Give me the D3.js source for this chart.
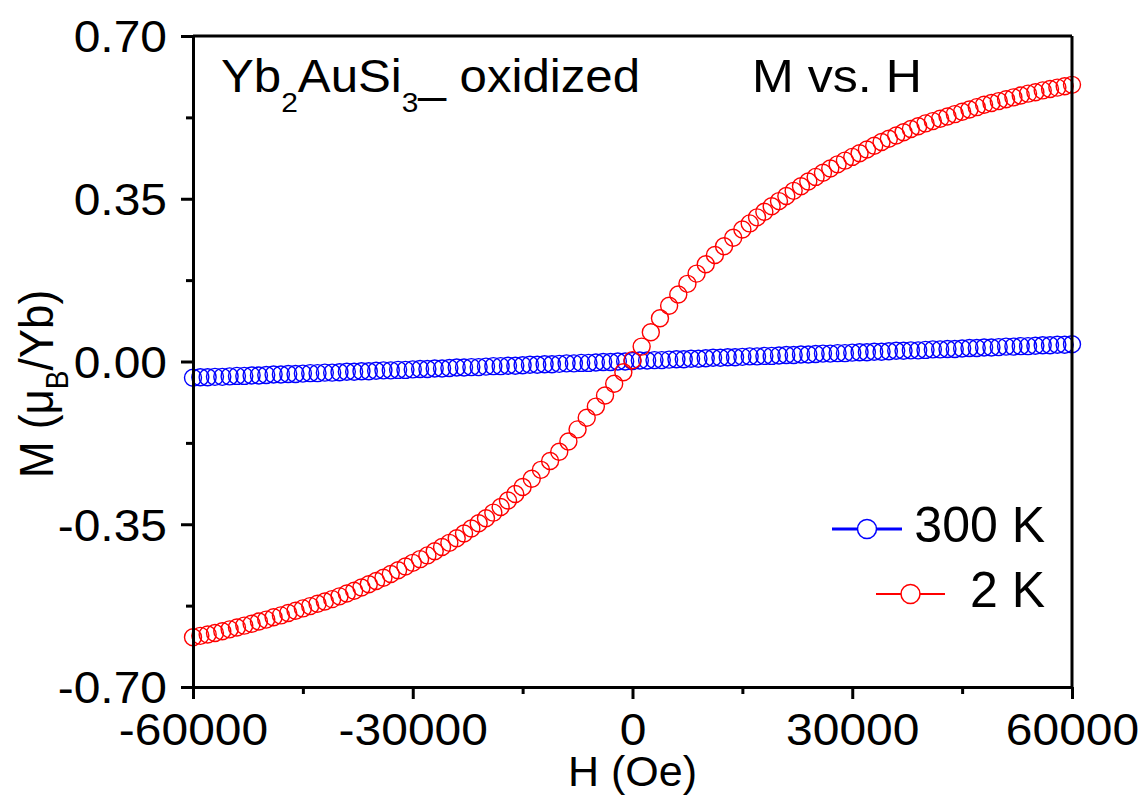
<!DOCTYPE html>
<html lang="en">

<head>
    <meta charset="utf-8">
    <style>
        body { margin: 0; background: #fff; }
        text { font-family: "Liberation Sans", Arial, sans-serif; fill: #000; }
    </style>
</head>

<body>
    <script src="https://d3js.org/d3.v7.min.js"></script>
    <script>

        // 300 K sweep, H in Oe, M in muB/Yb
        const hBlue = [-60000, -59000, -58000, -57000, -56000, -55000, -54000, -53000, -52000, -51000,
            -50000, -49000, -48000, -47000, -46000, -45000, -44000, -43000, -42000, -41000,
            -40000, -39000, -38000, -37000, -36000, -35000, -34000, -33000, -32000, -31000,
            -30000, -29000, -28000, -27000, -26000, -25000, -24000, -23000, -22000, -21000,
            -20000, -19000, -18000, -17000, -16000, -15000, -14000, -13000, -12000, -11000,
            -10000, -9000, -8000, -7000, -6000, -5000, -4000, -3000, -2000, -1000,
            0, 1000, 2000, 3000, 4000, 5000, 6000, 7000, 8000, 9000,
            10000, 11000, 12000, 13000, 14000, 15000, 16000, 17000, 18000, 19000,
            20000, 21000, 22000, 23000, 24000, 25000, 26000, 27000, 28000, 29000,
            30000, 31000, 32000, 33000, 34000, 35000, 36000, 37000, 38000, 39000,
            40000, 41000, 42000, 43000, 44000, 45000, 46000, 47000, 48000, 49000,
            50000, 51000, 52000, 53000, 54000, 55000, 56000, 57000, 58000, 59000, 60000];
        const mBlue = [-0.035, -0.034, -0.034, -0.033, -0.033, -0.032, -0.031, -0.031, -0.030, -0.030,
            -0.029, -0.028, -0.028, -0.027, -0.027, -0.026, -0.025, -0.025, -0.024, -0.024,
            -0.023, -0.022, -0.022, -0.021, -0.021, -0.020, -0.019, -0.019, -0.018, -0.018,
            -0.017, -0.016, -0.016, -0.015, -0.015, -0.014, -0.013, -0.013, -0.012, -0.012,
            -0.011, -0.010, -0.010, -0.009, -0.009, -0.008, -0.007, -0.007, -0.006, -0.006,
            -0.005, -0.004, -0.004, -0.003, -0.003, -0.002, -0.001, -0.001, 0.000, 0.000,
            0.001, 0.002, 0.002, 0.003, 0.003, 0.004, 0.005, 0.005, 0.006, 0.006,
            0.007, 0.008, 0.008, 0.009, 0.009, 0.010, 0.011, 0.011, 0.012, 0.012,
            0.013, 0.014, 0.014, 0.015, 0.015, 0.016, 0.017, 0.017, 0.018, 0.018,
            0.019, 0.020, 0.020, 0.021, 0.021, 0.022, 0.023, 0.023, 0.024, 0.024,
            0.025, 0.026, 0.026, 0.027, 0.027, 0.028, 0.029, 0.029, 0.030, 0.030,
            0.031, 0.032, 0.032, 0.033, 0.033, 0.034, 0.035, 0.035, 0.036, 0.036, 0.037];

        // 2 K sweep (finer steps around zero field)
        const hRed = [-60000, -59000, -58000, -57000, -56000, -55000, -54000, -53000, -52000, -51000,
            -50000, -49000, -48000, -47000, -46000, -45000, -44000, -43000, -42000, -41000,
            -40000, -39000, -38000, -37000, -36000, -35000, -34000, -33000, -32000, -31000,
            -30000, -29000, -28000, -27000, -26000, -25000, -24000, -23000, -22000, -21000,
            -20000, -19000, -18000, -17000, -16000, -15000,
            -13750, -12500, -11250, -10000, -8750, -7500, -6250, -5000, -3750, -2500, -1250,
            0, 1250, 2500, 3750, 5000, 6250, 7500, 8750, 10000, 11250, 12500, 13750,
            15000, 16000, 17000, 18000, 19000, 20000, 21000, 22000, 23000, 24000,
            25000, 26000, 27000, 28000, 29000, 30000, 31000, 32000, 33000, 34000,
            35000, 36000, 37000, 38000, 39000, 40000, 41000, 42000, 43000, 44000,
            45000, 46000, 47000, 48000, 49000, 50000, 51000, 52000, 53000, 54000,
            55000, 56000, 57000, 58000, 59000, 60000];
        const mRed = [-0.593, -0.590, -0.587, -0.584, -0.580, -0.576, -0.572, -0.568, -0.564, -0.559,
            -0.555, -0.550, -0.546, -0.541, -0.536, -0.531, -0.526, -0.521, -0.516, -0.511,
            -0.505, -0.499, -0.493, -0.486, -0.479, -0.472, -0.465, -0.457, -0.449, -0.441,
            -0.433, -0.425, -0.417, -0.408, -0.399, -0.390, -0.380, -0.370, -0.359, -0.348,
            -0.337, -0.325, -0.313, -0.299, -0.285, -0.270,
            -0.252, -0.233, -0.214, -0.194, -0.172, -0.146, -0.121, -0.097, -0.073, -0.048, -0.023,
            0.003, 0.032, 0.063, 0.093, 0.120, 0.144, 0.167, 0.189, 0.209, 0.229, 0.248, 0.266,
            0.284, 0.297, 0.310, 0.322, 0.334, 0.345, 0.356, 0.367, 0.377, 0.387,
            0.397, 0.406, 0.415, 0.424, 0.432, 0.440, 0.448, 0.456, 0.464, 0.472,
            0.479, 0.486, 0.493, 0.500, 0.506, 0.512, 0.517, 0.522, 0.527, 0.532,
            0.537, 0.542, 0.547, 0.552, 0.556, 0.560, 0.564, 0.568, 0.572, 0.576,
            0.579, 0.583, 0.586, 0.589, 0.592, 0.595];

        const seriesNames = ["300 K", "2 K"];
        const xTicks = [-60000, -30000, 0, 30000, 60000];
        const xMinor = [-45000, -15000, 15000, 45000];
        const yTicks = [-0.70, -0.35, 0.00, 0.35, 0.70];
        const yMinor = [-0.525, -0.175, 0.175, 0.525];

        const width = 1148, height = 797;
        const plotLeft = 193, plotRight = 1072, plotTop = 36, plotBottom = 687;
        const stretch = 1.09; // the source type is a bit wider than Arial

        var svg = d3.select("body")
            .append("svg")
            .attr("width", width)
            .attr("height", height);

        var x = d3.scaleLinear().domain([-60000, 60000]).range([plotLeft, plotRight]);
        var y = d3.scaleLinear().domain([-0.70, 0.70]).range([plotBottom, plotTop]);

        // data first, axes drawn on top
        var series = [
            { name: seriesNames[0], color: "#0000ff", h: hBlue, m: mBlue },
            { name: seriesNames[1], color: "#ff0000", h: hRed, m: mRed }
        ];

        series.forEach(function (s) {
            svg.append("g")
                .selectAll("circle")
                .data(d3.zip(s.h, s.m))
                .enter()
                .append("circle")
                .attr("cx", function (d) { return x(d[0]); })
                .attr("cy", function (d) { return y(d[1]); })
                .attr("r", 8.5)
                .attr("fill", "none")
                .attr("stroke", s.color)
                .attr("stroke-width", 1.4);
        });

        // frame on top and right
        svg.append("line")
            .attr("x1", plotLeft).attr("x2", plotRight).attr("y1", plotTop).attr("y2", plotTop)
            .attr("stroke", "#000").attr("stroke-width", 3);
        svg.append("line")
            .attr("x1", plotRight).attr("x2", plotRight).attr("y1", plotTop).attr("y2", plotBottom)
            .attr("stroke", "#000").attr("stroke-width", 3);

        var xAxis = d3.axisBottom(x)
            .tickValues(xTicks)
            .tickSize(12)
            .tickSizeOuter(0)
            .tickFormat(d3.format("d"));
        var xAxisMinor = d3.axisBottom(x).tickValues(xMinor).tickSize(7).tickSizeOuter(0).tickFormat("");

        var yAxis = d3.axisLeft(y)
            .tickValues(yTicks)
            .tickSize(12)
            .tickSizeOuter(0)
            .tickFormat(d3.format(".2f"));
        var yAxisMinor = d3.axisLeft(y).tickValues(yMinor).tickSize(7).tickSizeOuter(0).tickFormat("");

        var gx = svg.append("g").attr("transform", "translate(0," + plotBottom + ")").call(xAxis);
        svg.append("g").attr("transform", "translate(0," + plotBottom + ")").call(xAxisMinor);
        var gy = svg.append("g").attr("transform", "translate(" + plotLeft + ",0)").call(yAxis);
        svg.append("g").attr("transform", "translate(" + plotLeft + ",0)").call(yAxisMinor);

        svg.selectAll(".domain").attr("stroke-width", 3).attr("stroke", "#000");
        svg.selectAll(".tick line").attr("stroke-width", 3).attr("stroke", "#000");

        gx.selectAll("text")
            .attr("y", null)
            .attr("dy", null)
            .attr("transform", "translate(0,58) scale(" + stretch + ",1)")
            .attr("font-size", 44)
            .attr("font-family", null)
            .attr("fill", "#000")
            .text(function (d) { return d3.format("d")(d).replace("\u2212", "-"); });

        gy.selectAll("text")
            .attr("x", null)
            .attr("dy", "0.36em")
            .attr("transform", "translate(-26,0) scale(" + stretch + ",1)")
            .attr("font-size", 44)
            .attr("font-family", null)
            .attr("fill", "#000")
            .text(function (d) { return d3.format(".2f")(d).replace("\u2212", "-"); });

        // axis titles
        svg.append("text")
            .attr("x", (plotLeft + plotRight) / 2)
            .attr("y", 786)
            .attr("text-anchor", "middle")
            .attr("font-size", 43)
            .text("H (Oe)");

        var yt = svg.append("text")
            .attr("transform", "translate(53,384) scale(" + stretch + ",1) rotate(-90)")
            .attr("text-anchor", "middle")
            .attr("font-size", 44);
        yt.append("tspan").text("M (\u03bc");
        yt.append("tspan").attr("dy", 14).attr("font-size", 28).text("B");
        yt.append("tspan").attr("dy", -14).text("/Yb)");

        // annotations
        var t1 = svg.append("text")
            .attr("transform", "translate(221,92) scale(1.07,1)")
            .attr("font-size", 46);
        t1.append("tspan").text("Yb");
        t1.append("tspan").attr("dy", 20).attr("font-size", 28).text("2");
        t1.append("tspan").attr("dy", -20).text("AuSi");
        t1.append("tspan").attr("dy", 20).attr("font-size", 28).text("3");
        t1.append("tspan").attr("dy", -20).text("_ oxidized");

        svg.append("text")
            .attr("transform", "translate(752,92) scale(1.09,1)")
            .attr("font-size", 46)
            .text("M vs. H");

        // legend
        var legendRows = [
            { name: seriesNames[0], color: "#0000ff", x0: 832, x1: 902, cy: 529, lw: 3, tx: 1045, ty: 542 },
            { name: seriesNames[1], color: "#ff0000", x0: 876, x1: 945, cy: 594, lw: 2, tx: 1045, ty: 607 }
        ];
        var lg = svg.append("g")
            .selectAll("g")
            .data(legendRows)
            .enter()
            .append("g");
        lg.append("line")
            .attr("x1", function (d) { return d.x0; })
            .attr("x2", function (d) { return d.x1; })
            .attr("y1", function (d) { return d.cy; })
            .attr("y2", function (d) { return d.cy; })
            .attr("stroke", function (d) { return d.color; })
            .attr("stroke-width", function (d) { return d.lw; });
        lg.append("circle")
            .attr("cx", function (d) { return (d.x0 + d.x1) / 2; })
            .attr("cy", function (d) { return d.cy; })
            .attr("r", 9.5)
            .attr("fill", "#fff")
            .attr("stroke", function (d) { return d.color; })
            .attr("stroke-width", 1.5);
        lg.append("text")
            .attr("x", function (d) { return d.tx; })
            .attr("y", function (d) { return d.ty; })
            .attr("text-anchor", "end")
            .attr("font-size", 50)
            .text(function (d) { return d.name; });

    </script>

</body>

</html>
